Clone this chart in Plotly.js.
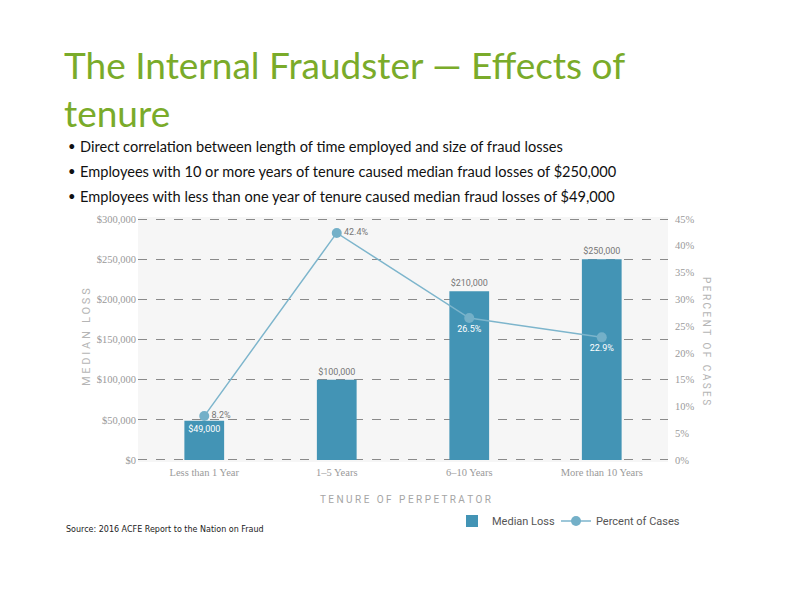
<!DOCTYPE html>
<html>
<head>
<meta charset="utf-8">
<script src="https://cdn.plot.ly/plotly-3.0.1.min.js"></script>
<style>
  body { margin: 0; background: #fff; }
  #chart { width: 792px; height: 612px; }
</style>
</head>
<body>
<div id="chart"></div>
<script>
// data
const tenure = ["Less than 1 Year", "1–5 Years", "6–10 Years", "More than 10 Years"];
const medianLoss = [49000, 100000, 210000, 250000];
const percentCases = [8.2, 42.4, 26.5, 22.9];
const lossTicks = [0, 50000, 100000, 150000, 200000, 250000, 300000];
const pctTicks = [0, 5, 10, 15, 20, 25, 30, 35, 40, 45];
const bullets = [
  "Direct correlation between length of time employed and size of fraud losses",
  "Employees with 10 or more years of tenure caused median fraud losses of $250,000",
  "Employees with less than one year of tenure caused median fraud losses of $49,000"
];

// plot box in pixels, used to place the free text
const L = 138, R = 668, T = 217, B = 462;
const px = (x) => (x - L) / (R - L);
const py = (y) => (B - y) / (B - T);

// a little padding so the 0 and 300,000 grid lines are still drawn
const padLoss = 2500;
const padPct = padLoss * 45 / 300000;

const money = (v) => "$" + v.toLocaleString("en-US");
const spaced = (s) => s.split("").join(" ");

const bars = {
  type: "bar",
  name: "Median Loss",
  legend: "legend",
  x: tenure,
  y: medianLoss,
  width: 0.3,
  marker: { color: "#4394b5" },
  text: medianLoss.map(money),
  textposition: medianLoss.map((v, i) => i === 0 ? "inside" : "outside"),
  insidetextanchor: "end",
  constraintext: "none",
  cliponaxis: false,
  textfont: {
    family: "Roboto, Arial, sans-serif",
    size: 9,
    color: medianLoss.map((v, i) => i === 0 ? "#ffffff" : "#777777")
  },
  hoverinfo: "skip"
};

const line = {
  type: "scatter",
  mode: "lines+markers+text",
  name: "Percent of Cases",
  legend: "legend2",
  x: tenure,
  y: percentCases,
  yaxis: "y2",
  line: { color: "#7db5cc", width: 1.5 },
  marker: { color: "#74b0c8", size: 10 },
  text: percentCases.map((v) => v.toFixed(1) + "%"),
  textposition: ["middle right", "middle right", "bottom center", "bottom center"],
  textfont: {
    family: "Roboto, Arial, sans-serif",
    size: 9,
    color: ["#777777", "#777777", "#ffffff", "#ffffff"]
  },
  cliponaxis: false,
  hoverinfo: "skip"
};

const free = (o) => Object.assign({
  xref: "paper", yref: "paper", xanchor: "center", yanchor: "middle", showarrow: false
}, o);

const titleFont = { family: "Lato, 'Open Sans', sans-serif", size: 37, color: "#7aab2a" };
const annotations = [
  free({ text: "The Internal Fraudster — Effects of", x: px(62), y: py(40), xanchor: "left", yanchor: "top", font: titleFont }),
  free({ text: "tenure", x: px(62), y: py(88), xanchor: "left", yanchor: "top", font: titleFont })
];

bullets.forEach((b, i) => {
  const y = py(146 + i * 25);
  annotations.push(
    free({ text: "•", x: px(66), y: y, xanchor: "left",
      font: { family: "Lato, sans-serif", size: 13, color: "#111111" } }),
    free({ text: b, x: px(78), y: y, xanchor: "left",
      font: { family: "Lato, 'Open Sans', sans-serif", size: 14.6, color: "#111111" } })
  );
});

annotations.push(
  free({ text: spaced("MEDIAN LOSS"), x: px(86), y: py(337), textangle: -90,
    font: { family: "Roboto, Arial, sans-serif", size: 11, color: "#b5b5b5" } }),
  free({ text: spaced("PERCENT OF CASES"), x: px(707), y: py(341), textangle: 90,
    font: { family: "Roboto, Arial, sans-serif", size: 10, color: "#b5b5b5" } }),
  free({ text: spaced("TENURE OF PERPETRATOR"), x: px(405), y: py(499),
    font: { family: "Roboto, Arial, sans-serif", size: 10, color: "#a5a5a5" } }),
  free({ text: "Source: 2016 ACFE Report to the Nation on Fraud", x: px(64), y: py(529), xanchor: "left",
    font: { family: "'DejaVu Sans', Arial, sans-serif", size: 8, color: "#222222" } })
);

const serifTicks = { family: "'Liberation Serif', 'DejaVu Serif', serif", size: 10.5, color: "#9a9a9a" };
const legendFont = { family: "Roboto, Arial, sans-serif", size: 11, color: "#555555" };

const layout = {
  width: 792,
  height: 612,
  margin: { l: L, r: 792 - R, t: T, b: 612 - B },
  paper_bgcolor: "#ffffff",
  plot_bgcolor: "#f6f6f6",
  showlegend: true,
  legend: {
    orientation: "h",
    x: px(452), y: py(521), xanchor: "left", yanchor: "middle",
    font: legendFont,
    bgcolor: "rgba(0,0,0,0)"
  },
  legend2: {
    orientation: "h",
    x: px(556), y: py(521), xanchor: "left", yanchor: "middle",
    font: legendFont,
    bgcolor: "rgba(0,0,0,0)"
  },
  xaxis: {
    showgrid: false,
    zeroline: false,
    showline: false,
    ticks: "",
    ticklabelstandoff: 2,
    tickfont: serifTicks
  },
  yaxis: {
    range: [-padLoss, 300000 + padLoss],
    tickvals: lossTicks,
    ticktext: lossTicks.map(money),
    showgrid: true,
    gridcolor: "#8a8a8a",
    griddash: "dash",
    gridwidth: 1,
    zeroline: false,
    showline: false,
    ticks: "",
    ticklabelstandoff: 1,
    tickfont: serifTicks
  },
  yaxis2: {
    overlaying: "y",
    side: "right",
    range: [-padPct, 45 + padPct],
    tickvals: pctTicks,
    ticktext: pctTicks.map((v) => v + "%"),
    showgrid: false,
    zeroline: false,
    showline: false,
    ticks: "",
    ticklabelstandoff: 6,
    tickfont: serifTicks
  },
  annotations: annotations
};

Plotly.newPlot("chart", [bars, line], layout, { displayModeBar: false, staticPlot: true });
</script>
</body>
</html>
